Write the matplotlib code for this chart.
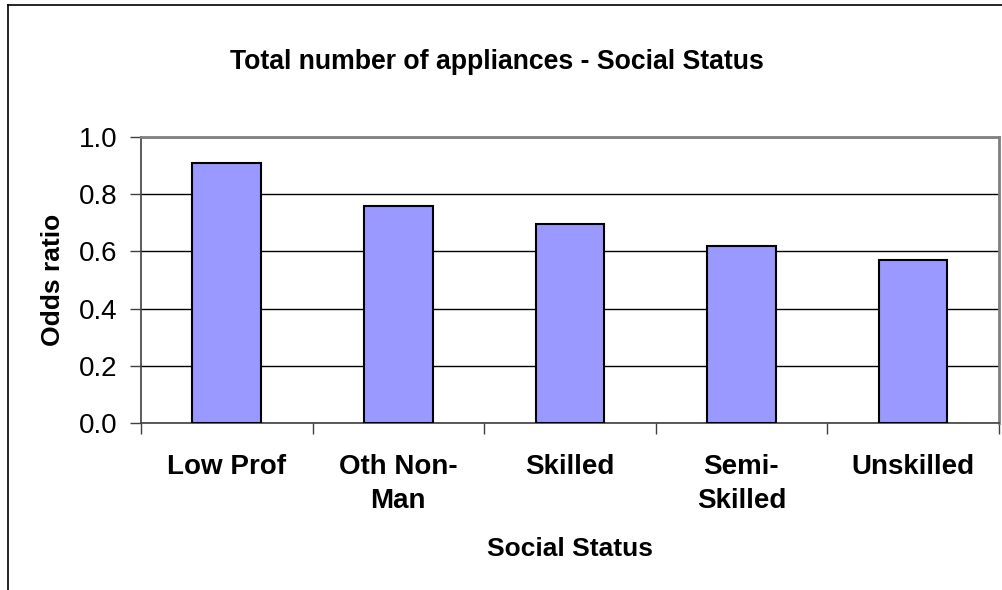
import matplotlib.pyplot as plt
import numpy as np

plt.rcParams['font.family'] = ['Liberation Sans', 'DejaVu Sans']

categories = ['Low Prof', 'Oth Non-\nMan', 'Skilled', 'Semi-\nSkilled', 'Unskilled']
odds_ratio = [0.907, 0.759, 0.695, 0.620, 0.569]
y_ticks = [0.0, 0.2, 0.4, 0.6, 0.8, 1.0]

fig = plt.figure(figsize=(10.02, 5.9), dpi=100)
ax = fig.add_axes([0.1407, 0.283, 0.856, 0.485])

x = np.arange(len(categories))
ax.bar(x, odds_ratio, width=0.4, color='#9999FF', edgecolor='black', linewidth=1.5, zorder=3)

ax.set_xlim(-0.5, len(categories) - 0.5)
ax.set_ylim(0, 1.0)
ax.set_yticks(y_ticks)
ax.set_yticklabels([f'{v:.1f}' for v in y_ticks], fontsize=20)
ax.yaxis.grid(True, color='black', linewidth=1.0, zorder=0)

ax.set_xticks(x)
ax.set_xticklabels(categories, fontsize=20, fontweight='bold', linespacing=1.4)
ax.tick_params(axis='x', which='major', length=0, pad=22)
ax.set_xticks(np.arange(-0.5, len(categories)), minor=True)
ax.tick_params(axis='x', which='minor', length=8, width=1, color='#404040')
ax.tick_params(axis='y', length=8, width=1, color='#404040', pad=9)

for side in ['top', 'right']:
    ax.spines[side].set_color('#808080')
    ax.spines[side].set_linewidth(2)
for side in ['left', 'bottom']:
    ax.spines[side].set_color('#404040')
    ax.spines[side].set_linewidth(1.2)

ax.set_ylabel('Odds ratio', fontsize=19, fontweight='bold', labelpad=10)
ax.set_xlabel('Social Status', fontsize=19, fontweight='bold', labelpad=17)
fig.text(0.496, 0.895, 'Total number of appliances - Social Status',
         ha='center', va='center', fontsize=19.2, fontweight='bold')

# chart area border (cropped at right and bottom)
fig.add_artist(plt.Line2D([8 / 1002, 8 / 1002], [0, 1 - 5 / 590], color='black', linewidth=1.2))
fig.add_artist(plt.Line2D([8 / 1002, 1], [1 - 5 / 590, 1 - 5 / 590], color='black', linewidth=1.2))

fig.savefig('out.png', dpi=100)
